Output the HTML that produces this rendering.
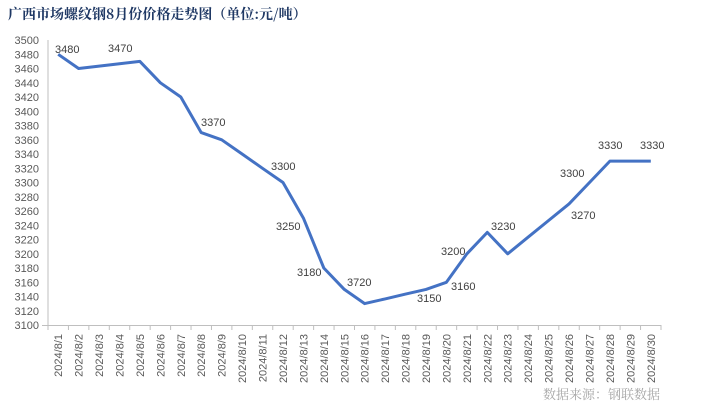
<!DOCTYPE html>
<html><head><meta charset="utf-8"><style>
html,body{margin:0;padding:0;background:#fff;}
svg{display:block;}
</style></head><body>
<svg width="722" height="414" xmlns="http://www.w3.org/2000/svg">
<text x="8" y="19" font-family="'Noto Serif CJK SC','Liberation Serif',serif" font-weight="bold" font-size="14" fill="#1f3864">广西市场螺纹钢8月份价格走势图（单位:元/吨）</text>
<g font-family="'Liberation Sans',sans-serif" font-size="11" fill="#595959" text-anchor="end">
<text x="39" y="44">3500</text><text x="39" y="58.3">3480</text><text x="39" y="72.5">3460</text><text x="39" y="86.8">3440</text><text x="39" y="101">3420</text><text x="39" y="115.3">3400</text><text x="39" y="129.5">3380</text><text x="39" y="143.8">3360</text><text x="39" y="158">3340</text><text x="39" y="172.3">3320</text><text x="39" y="186.5">3300</text><text x="39" y="200.8">3280</text><text x="39" y="215">3260</text><text x="39" y="229.3">3240</text><text x="39" y="243.5">3220</text><text x="39" y="257.8">3200</text><text x="39" y="272">3180</text><text x="39" y="286.3">3160</text><text x="39" y="300.5">3140</text><text x="39" y="314.8">3120</text><text x="39" y="329">3100</text>
</g>
<g stroke="#bfbfbf" stroke-width="1">
<line x1="48" y1="40" x2="48" y2="330"/>
<line x1="42" y1="325.5" x2="661" y2="325.5"/>
<g id="ticks"></g>
</g>
<g id="xl" font-family="'Liberation Sans',sans-serif" font-size="11" fill="#595959"></g>
<polyline id="ln" fill="none" stroke="#4472c4" stroke-width="3" stroke-linejoin="round" points=""/>
<g font-family="'Liberation Sans',sans-serif" font-size="11" fill="#404040">
<text x="55" y="53">3480</text><text x="108" y="52">3470</text><text x="201" y="126">3370</text><text x="271" y="170">3300</text><text x="276" y="230">3250</text><text x="297" y="276">3180</text><text x="347" y="286">3720</text><text x="417" y="302">3150</text><text x="451" y="290">3160</text><text x="441" y="255">3200</text><text x="491" y="230">3230</text><text x="560" y="177">3300</text><text x="571" y="219">3270</text><text x="598" y="149">3330</text><text x="640" y="149">3330</text>
</g>
<text x="660" y="399" text-anchor="end" font-family="'Noto Serif CJK SC','Liberation Serif',serif" font-size="13" fill="#a6a6a6">数据来源：钢联数据</text>
<script>
var ns="http://www.w3.org/2000/svg",t=document.getElementById("ticks"),x=document.getElementById("xl");
for(var i=0;i<=30;i++){var px=48+i*20.433;var l=document.createElementNS(ns,"line");l.setAttribute("x1",px);l.setAttribute("x2",px);l.setAttribute("y1",325);l.setAttribute("y2",330);t.appendChild(l);}
for(var i=1;i<=30;i++){var cx=48+(i-0.5)*20.433+4;var e=document.createElementNS(ns,"text");e.setAttribute("transform","translate("+cx+",334) rotate(-90)");e.setAttribute("text-anchor","end");e.textContent="2024/8/"+i;x.appendChild(e);}
var d=[3480,3460,3463.3,3466.7,3470,3440,3420,3370,3360,3340,3320,3300,3250,3180,3150,3130,3136.7,3143.3,3150,3160,3200,3230,3200,3223.3,3246.7,3270,3300,3330,3330,3330];
var p=[];for(var i=0;i<30;i++){p.push((48+(i+0.5)*20.433).toFixed(1)+","+(325-(d[i]-3100)*0.7125).toFixed(1));}
document.getElementById("ln").setAttribute("points",p.join(" "));
</script>
</svg>
</body></html>
